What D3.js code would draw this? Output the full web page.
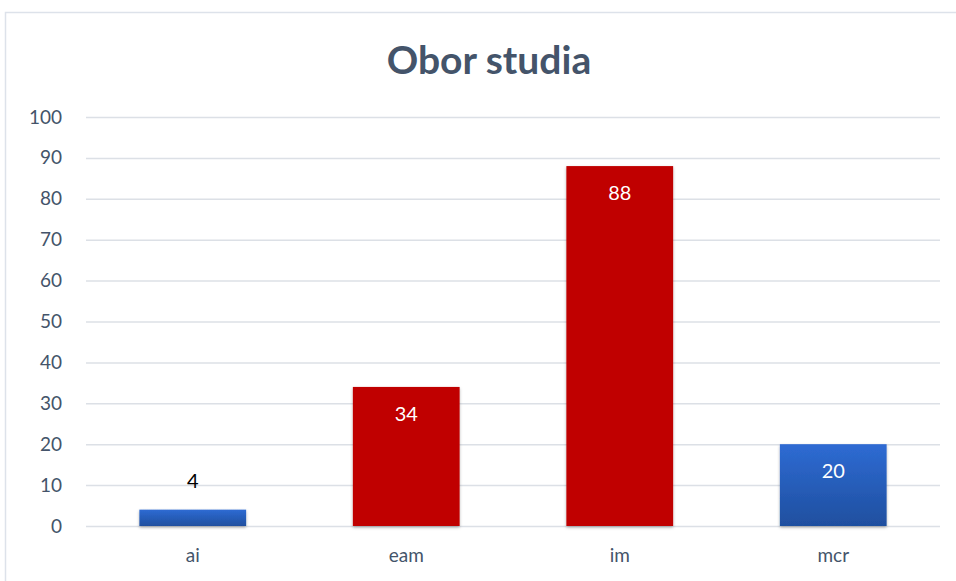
<!DOCTYPE html>
<html>
<head>
<meta charset="utf-8">
<script src="https://cdn.jsdelivr.net/npm/d3@7"></script>
<style>
  body { margin: 0; background: #fff; }
  svg { display: block; }
</style>
</head>
<body>
<script>
// data
const categories = ["ai", "eam", "im", "mcr"];
const values = [4, 34, 88, 20];
const barKinds = ["blue", "red", "red", "blue"];
const yTicks = [0, 10, 20, 30, 40, 50, 60, 70, 80, 90, 100];
const title = "Obor studia";

const W = 956, H = 581;
const margin = { top: 117, right: 16, bottom: 55, left: 86 };
const innerW = W - margin.left - margin.right;
const plotH = 409;
const textColor = "#44546A";
const font = "Lato, 'Open Sans', sans-serif";

const svg = d3.select("body").append("svg").attr("width", W).attr("height", H);

const defs = svg.append("defs");
const grad = defs.append("linearGradient").attr("id", "blueGrad")
  .attr("x1", 0).attr("y1", 0).attr("x2", 0).attr("y2", 1);
grad.append("stop").attr("offset", "0%").attr("stop-color", "#2E6BD3");
grad.append("stop").attr("offset", "100%").attr("stop-color", "#1F4F9F");
const shadow = defs.append("filter").attr("id", "shadow").attr("x", "-10%").attr("y", "-10%").attr("width", "120%").attr("height", "130%");
shadow.append("feDropShadow").attr("dx", 0).attr("dy", 1.5).attr("stdDeviation", 1.5).attr("flood-color", "#000").attr("flood-opacity", 0.3);

// chart frame
svg.append("rect")
  .attr("x", 5.5).attr("y", 12.5).attr("width", W + 10).attr("height", H + 10)
  .attr("fill", "none").attr("stroke", "#DDE2EA").attr("stroke-width", 1.5);

// title
svg.append("text")
  .attr("x", 489).attr("y", 74)
  .attr("text-anchor", "middle")
  .attr("font-family", font).attr("font-weight", "bold").attr("font-size", 39)
  .attr("fill", textColor)
  .text(title);

const g = svg.append("g").attr("transform", `translate(${margin.left},${margin.top})`);

const x = d3.scaleBand().domain(categories).range([0, innerW]).paddingInner(0.5).paddingOuter(0.25);
const y = d3.scaleLinear().domain([0, 100]).range([plotH, 0]);

// gridlines + y axis
const yAxis = d3.axisLeft(y).tickValues(yTicks).tickSize(-innerW).tickPadding(24);
const ya = g.append("g").call(yAxis);
ya.select(".domain").remove();
ya.selectAll(".tick line").attr("stroke", "#DCE0E6").attr("stroke-width", 1.5);
ya.selectAll(".tick text")
  .attr("font-family", font).attr("font-size", 19).attr("fill", textColor);

// x axis labels
const xAxis = d3.axisBottom(x).tickSize(0).tickPadding(23);
const xa = g.append("g").attr("transform", `translate(0,${plotH})`).call(xAxis);
xa.select(".domain").remove();
xa.selectAll(".tick text")
  .attr("font-family", font).attr("font-size", 19).attr("fill", textColor);

// bars
g.selectAll("rect.bar")
  .data(values)
  .join("rect")
  .attr("class", "bar")
  .attr("x", (d, i) => x(categories[i]))
  .attr("y", d => y(d))
  .attr("width", x.bandwidth())
  .attr("height", d => y(0) - y(d))
  .attr("fill", (d, i) => barKinds[i] === "red" ? "#C00000" : "url(#blueGrad)")
  .attr("filter", "url(#shadow)");

// data labels
g.selectAll("text.lbl")
  .data(values)
  .join("text")
  .attr("class", "lbl")
  .attr("x", (d, i) => x(categories[i]) + x.bandwidth() / 2)
  .attr("y", d => d < 10 ? y(d) - 22 : y(d) + 34)
  .attr("text-anchor", "middle")
  .attr("font-family", font).attr("font-size", 20)
  .attr("fill", d => d < 10 ? "#000" : "#fff")
  .text(d => d);
</script>
</body>
</html>
